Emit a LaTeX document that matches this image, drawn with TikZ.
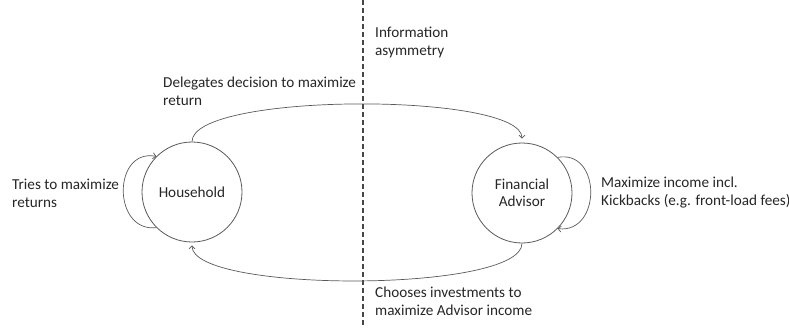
\documentclass[tikz,border=0pt]{standalone}
\usepackage{fontspec}
\setmainfont{Carlito}
\usetikzlibrary{arrows.meta}
\definecolor{linegray}{HTML}{595959}
\definecolor{txt}{HTML}{262626}
\tikzset{
  agent/.style={circle, draw=linegray, line width=0.8pt, minimum size=100pt, inner sep=0pt, align=center, text=txt, font=\fontsize{15.2}{17.5}\selectfont},
  lbl/.style={anchor=base west, align=left, text=txt, inner sep=0pt, font=\fontsize{15.2}{17.5}\selectfont},
  conn/.style={draw=linegray, line width=0.7pt, -{Straight Barb[length=3pt,width=6pt]}},
  divider/.style={draw=linegray!80!black, line width=1.4pt, dash pattern=on 5pt off 3pt}
}
\begin{document}
\begin{tikzpicture}[x=1pt,y=-1pt]
\useasboundingbox (0,0) rectangle (789,327);
\coordinate (dtop) at (363,0);
\coordinate (dbot) at (363,327);
\draw[divider] (dtop) -- (dbot);

\node[agent] (hh) at (192,192) {Household};
\node[agent] (fa) at (522,193) {Financial\\Advisor};

\draw[conn, shorten >=4pt] (hh.north) .. controls (192,92) and (522,92) .. (fa.north);
\draw[conn, shorten >=3pt] (fa.south) .. controls (522,293) and (192,293) .. (hh.south);
\draw[conn] (hh.225) .. controls +(-44,5) and +(-44,-8) .. (hh.135);
\draw[conn] (fa.45) .. controls +(44,-8) and +(44,5) .. (fa.-45);

\node[lbl] (l1) at (12,207) {Tries to maximize\\returns};
\node[lbl] (l2) at (163,105) {Delegates decision to maximize\\return};
\node[lbl] (l3) at (375,55) {Information\\asymmetry};
\node[lbl] (l4) at (601,205) {Maximize income incl.\\Kickbacks (e.g. front-load fees)};
\node[lbl] (l5) at (375,315) {Chooses investments to\\maximize Advisor income};
\end{tikzpicture}
\end{document}
